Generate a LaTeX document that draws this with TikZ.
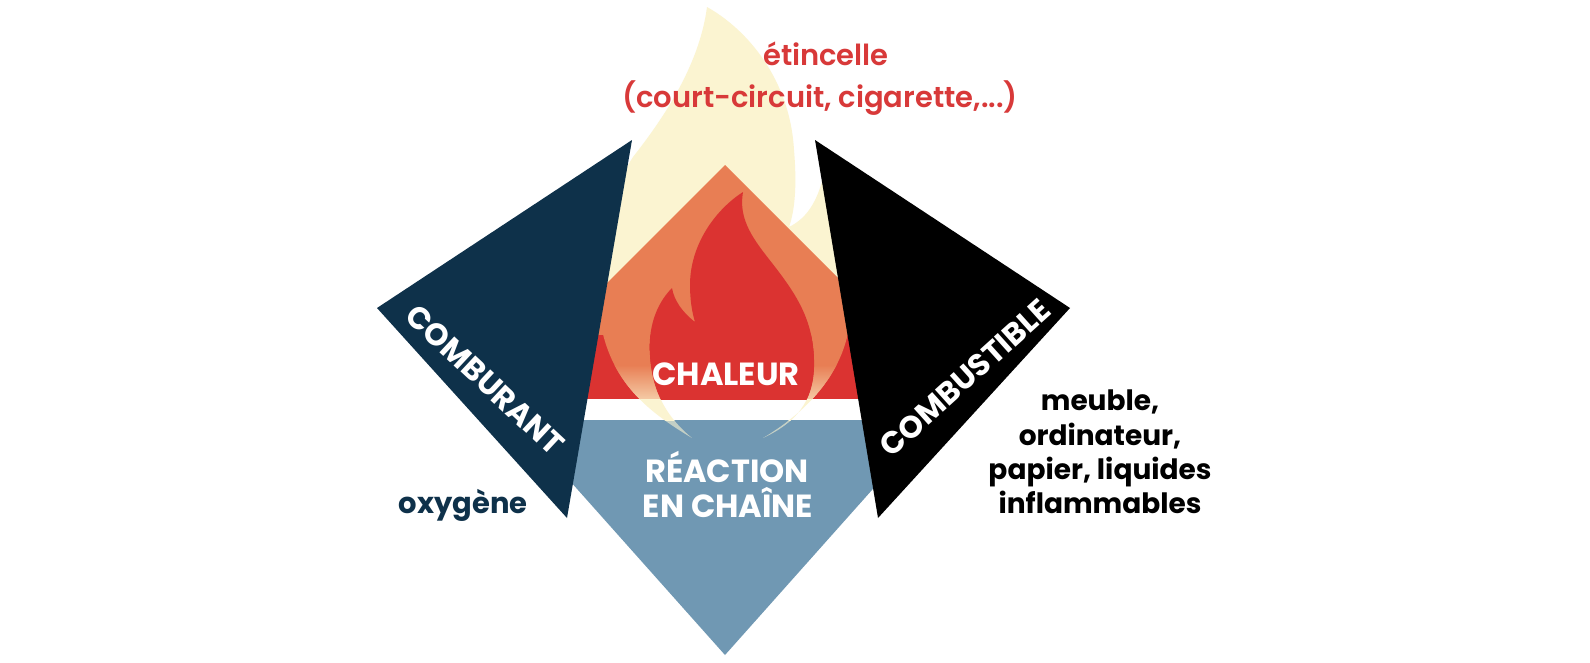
\documentclass[tikz,border=0pt]{standalone}
\usepackage{fontspec}
\setmainfont{Poppins}
\newfontfamily\semibfont{Poppins SemiBold}
\definecolor{navyc}{HTML}{0E314A}
\definecolor{bluec}{HTML}{7098B3}
\definecolor{redc}{HTML}{DB3331}
\definecolor{orangec}{HTML}{E87E54}
\definecolor{palec}{HTML}{FBF4D1}
\definecolor{redtext}{HTML}{D83939}
\begin{document}
\begin{tikzpicture}[x=1pt,y=-1pt,
  whitecaps/.style={text=white, inner sep=0pt, font=\bfseries\fontsize{32}{38}\selectfont},
  sidecaps/.style={text=white, inner sep=0pt, font=\bfseries\fontsize{31}{38}\selectfont},
  redlbl/.style={text=redtext, inner sep=0pt, anchor=base, font=\semibfont\fontsize{29}{34}\selectfont},
  blklbl/.style={text=black, inner sep=0pt, anchor=base, font=\bfseries\fontsize{28}{34}\selectfont},
  navylbl/.style={text=navyc, inner sep=0pt, anchor=base, font=\bfseries\fontsize{29}{34}\selectfont}]
\useasboundingbox[fill=white] (0,0) rectangle (1590,662);
\def\flameout{(692,438) .. controls (645,410) and (610,380) .. (600,320)
  .. controls (592,270) and (605,200) .. (633,157)
  .. controls (670,110) and (700,60) .. (707,7)
  .. controls (748,30) and (790,80) .. (794,150)
  .. controls (797,185) and (795,210) .. (789,227)
  .. controls (807,218) and (822,200) .. (828,150)
  .. controls (850,200) and (865,270) .. (850,320)
  .. controls (845,370) and (810,410) .. (763,438)}
\def\flamein{(763,438) .. controls (802,420) and (815,395) .. (814,360)
  .. controls (813,320) and (797,295) .. (772,263)
  .. controls (754,240) and (738,220) .. (743,192)
  .. controls (715,210) and (690,245) .. (690,285)
  .. controls (690,300) and (692,312) .. (695,322)
  .. controls (682,312) and (674,300) .. (672,288)
  .. controls (655,305) and (648,330) .. (650,355)
  .. controls (652,395) and (670,420) .. (692,438)}
% pale outer flame
\begin{scope}
  \clip (0,0) rectangle (1590,338);
  \fill[palec] \flameout -- cycle;
\end{scope}
% orange triangle and red band
\fill[orangec] (725,165) -- (553,337) -- (897,337) -- cycle;
\fill[redc] (540,335) rectangle (910,399);
% blue lower part
\fill[bluec] (570,420) -- (880,420) -- (880,481) -- (725,655) -- (570,481) -- cycle;
% flame ring in the band, fading to pale
\begin{scope}
  \clip \flameout -- \flamein -- cycle;
  \fill[orangec] (560,334) rectangle (900,366);
  \foreach \i in {0,...,33} {
    \pgfmathsetmacro\pc{100-1.9*\i}
    \fill[orangec!\pc!palec] (560,{365+\i}) rectangle (900,{366.6+\i});
  }
  \fill[palec] (560,399) rectangle (900,420.5);
  \fill[palec, fill opacity=0.6] (560,420) rectangle (900,445);
\end{scope}
% inner red flame
\begin{scope}
  \clip (0,0) rectangle (1590,399);
  \fill[redc] \flamein -- cycle;
\end{scope}
% side triangles
\fill[navyc] (632,140) -- (377,308) -- (567,518) -- cycle;
\fill[black] (815,140) -- (1070,308) -- (878,518) -- cycle;
% texts
\node[sidecaps, rotate=-43] (comburant) at (485,380) {COMBURANT};
\node[sidecaps, rotate=42] (combustible) at (965,378) {COMBUSTIBLE};
\node[whitecaps, anchor=base] (chaleur) at (726,385) {CHALEUR};
\node[whitecaps, anchor=base] (reaction) at (727,482) {RÉACTION};
\node[whitecaps, anchor=base] (enchaine) at (728,517) {EN CHAÎNE};
\node[redlbl] (etincelle) at (826,65) {étincelle};
\node[redlbl] (exemples) at (820,107) {(court-circuit, cigarette,...)};
\node[navylbl] (oxygene) at (463,513) {oxygène};
\node[blklbl] (meuble) at (1100,410) {meuble,};
\node[blklbl] (ordinateur) at (1100,445) {ordinateur,};
\node[blklbl] (papier) at (1100,479) {papier, liquides};
\node[blklbl] (inflammables) at (1100,513) {inflammables};
\end{tikzpicture}
\end{document}
